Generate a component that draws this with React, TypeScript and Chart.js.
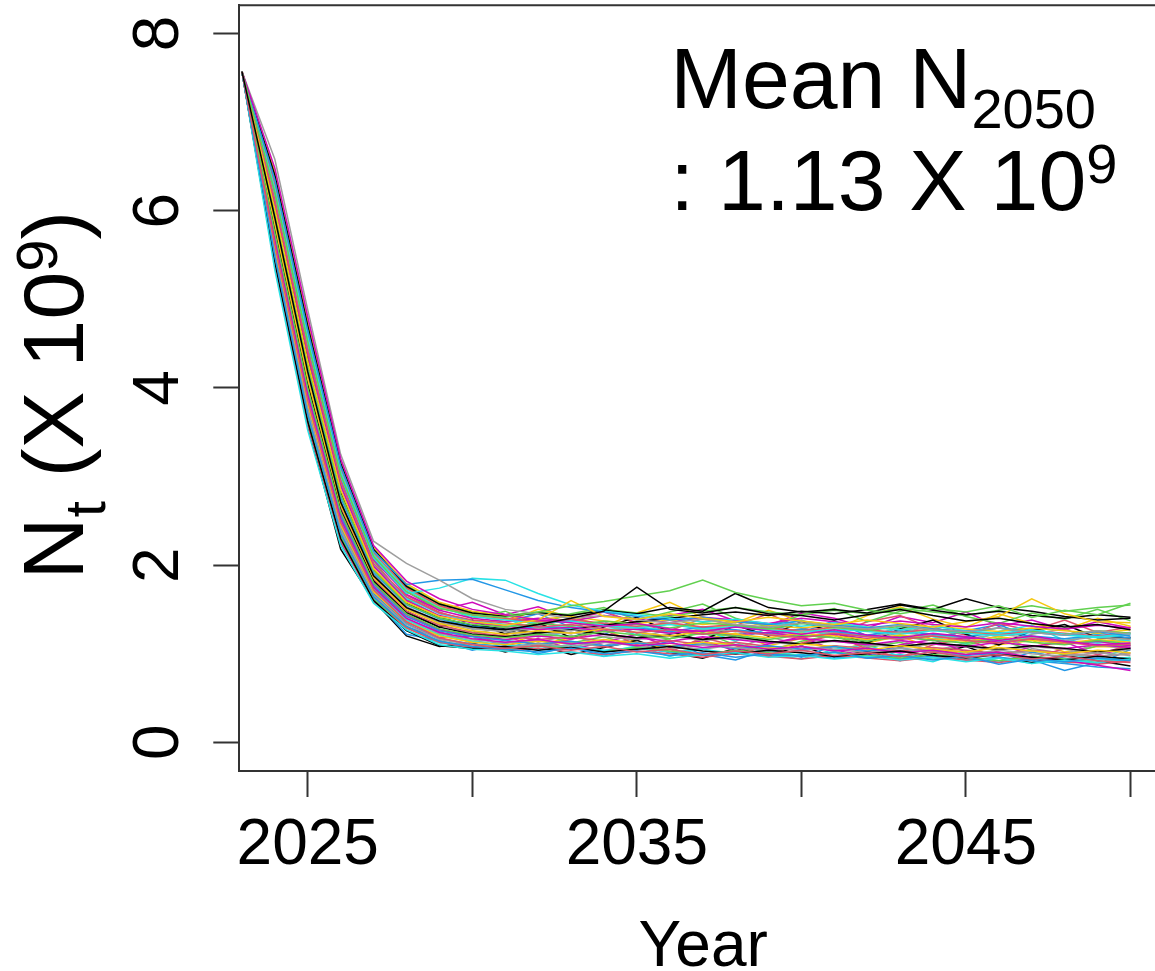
import React, { useEffect, useRef } from "react";
import { Chart, registerables } from "chart.js";

Chart.register(...registerables);

// ---------- data ----------
const YEARS = [2023, 2024, 2025, 2026, 2027, 2028, 2029, 2030, 2031, 2032, 2033, 2034, 2035, 2036, 2037, 2038, 2039, 2040, 2041, 2042, 2043, 2044, 2045, 2046, 2047, 2048, 2049, 2050];

const X_TICKS = [2025, 2030, 2035, 2040, 2045, 2050];
const X_TICK_LABELS = ["2025", "", "2035", "", "2045", ""];
const Y_TICKS = [0, 2, 4, 6, 8];
const Y_TICK_LABELS = ["0", "2", "4", "6", "8"];

const X_TITLE = "Year";
const MEAN_LABEL = "1.13";

// simulated trajectories N_t (x 10^9), one value per year 2023..2050
const SIM_01 = [7.57, 5.92, 4.18, 2.71, 1.88, 1.52, 1.37, 1.30, 1.27, 1.33, 1.40, 1.48, 1.75, 1.50, 1.46, 1.52, 1.45, 1.43, 1.38, 1.44, 1.50, 1.43, 1.37, 1.40, 1.34, 1.30, 1.33, 1.27];
const SIM_02 = [7.57, 5.61, 3.86, 2.48, 1.72, 1.36, 1.18, 1.10, 1.06, 1.09, 1.04, 1.08, 1.02, 1.05, 0.99, 1.03, 1.00, 1.04, 0.98, 1.01, 0.97, 1.02, 0.96, 0.99, 0.94, 0.97, 0.92, 0.90];
const SIM_03 = [7.57, 6.21, 4.52, 3.02, 2.10, 1.70, 1.51, 1.44, 1.41, 1.47, 1.54, 1.59, 1.65, 1.71, 1.83, 1.69, 1.61, 1.54, 1.57, 1.49, 1.45, 1.51, 1.47, 1.54, 1.41, 1.49, 1.44, 1.57];
const SIM_04 = [7.57, 5.48, 3.70, 2.36, 1.64, 1.31, 1.14, 1.08, 1.05, 1.02, 1.06, 1.00, 1.03, 0.98, 1.01, 0.96, 1.00, 0.97, 1.02, 0.95, 0.98, 0.93, 0.97, 0.88, 0.94, 0.91, 0.95, 0.92];
const SIM_05 = [7.57, 5.33, 3.52, 2.22, 1.57, 1.27, 1.10, 1.05, 1.03, 0.99, 1.02, 0.97, 1.00, 0.95, 0.99, 1.01, 0.96, 0.98, 0.94, 0.97, 0.93, 0.96, 0.91, 0.95, 0.89, 0.93, 0.90, 0.94];
const SIM_06 = [7.57, 6.48, 4.80, 3.20, 2.22, 1.82, 1.62, 1.50, 1.44, 1.38, 1.35, 1.31, 1.34, 1.28, 1.25, 1.30, 1.26, 1.22, 1.27, 1.21, 1.18, 1.23, 1.19, 1.15, 1.20, 1.14, 1.10, 1.12];
const SIM_07 = [7.57, 6.02, 4.30, 2.85, 1.96, 1.58, 1.42, 1.36, 1.32, 1.38, 1.60, 1.42, 1.39, 1.45, 1.40, 1.36, 1.41, 1.37, 1.33, 1.38, 1.34, 1.30, 1.36, 1.42, 1.62, 1.45, 1.36, 1.35];
const SIM_08 = [7.57, 6.58, 4.88, 3.25, 2.27, 2.02, 1.83, 1.62, 1.50, 1.45, 1.40, 1.43, 1.38, 1.35, 1.39, 1.33, 1.30, 1.35, 1.31, 1.28, 1.32, 1.27, 1.25, 1.29, 1.24, 1.21, 1.26, 1.22];
const SIM_09 = [7.57, 5.42, 3.62, 2.30, 1.60, 1.26, 1.09, 1.06, 1.08, 1.04, 1.07, 1.02, 1.05, 1.08, 1.03, 1.00, 1.04, 1.01, 0.97, 1.00, 1.03, 0.98, 0.95, 0.99, 0.96, 0.93, 0.97, 0.94];
const SIM_10 = [7.57, 6.12, 4.42, 2.95, 2.02, 1.64, 1.46, 1.38, 1.35, 1.30, 1.33, 1.28, 1.24, 1.27, 1.22, 1.26, 1.21, 1.18, 1.23, 1.19, 1.16, 1.20, 1.15, 1.12, 1.17, 1.13, 1.09, 1.11];
const SIM_11 = [7.57, 5.75, 4.00, 2.60, 1.80, 1.45, 1.28, 1.21, 1.18, 1.22, 1.19, 1.25, 1.21, 1.17, 1.23, 1.20, 1.16, 1.21, 1.18, 1.14, 1.19, 1.15, 1.12, 1.17, 1.13, 1.10, 1.15, 1.11];
const SIM_12 = [7.57, 6.35, 4.65, 3.12, 2.16, 1.78, 1.83, 1.84, 1.72, 1.60, 1.52, 1.47, 1.42, 1.38, 1.41, 1.36, 1.33, 1.37, 1.32, 1.29, 1.33, 1.28, 1.25, 1.29, 1.24, 1.21, 1.25, 1.20];
const SIM_13 = [7.57, 6.15, 4.50, 3.00, 2.08, 1.68, 1.74, 1.85, 1.83, 1.68, 1.55, 1.48, 1.44, 1.40, 1.36, 1.39, 1.34, 1.31, 1.35, 1.30, 1.27, 1.31, 1.26, 1.23, 1.27, 1.22, 1.19, 1.23];
const SIM_14 = [7.57, 5.68, 3.92, 2.52, 1.75, 1.40, 1.24, 1.17, 1.13, 1.16, 1.11, 1.14, 1.09, 1.12, 1.07, 1.10, 1.05, 1.08, 1.03, 1.06, 1.01, 1.04, 0.99, 1.02, 0.96, 0.93, 0.87, 0.81];
const SIM_15 = [7.57, 5.85, 4.10, 2.68, 1.86, 1.50, 1.34, 1.26, 1.22, 1.26, 1.23, 1.28, 1.24, 1.20, 1.25, 1.22, 1.18, 1.23, 1.20, 1.16, 1.21, 1.17, 1.14, 1.19, 1.15, 1.12, 1.16, 1.13];
const SIM_16 = [7.57, 5.50, 3.75, 2.40, 1.66, 1.33, 1.16, 1.10, 1.07, 1.11, 1.08, 1.13, 1.09, 1.05, 1.10, 1.07, 1.03, 1.08, 1.05, 1.01, 1.06, 1.02, 0.99, 1.04, 1.00, 0.97, 1.01, 0.98];
const SIM_17 = [7.57, 6.40, 4.70, 3.15, 2.18, 1.76, 1.56, 1.46, 1.42, 1.46, 1.43, 1.49, 1.45, 1.52, 1.48, 1.68, 1.52, 1.47, 1.50, 1.46, 1.55, 1.49, 1.44, 1.48, 1.43, 1.40, 1.44, 1.41];
const SIM_18 = [7.57, 5.38, 3.58, 2.27, 1.59, 1.29, 1.13, 1.07, 1.04, 1.06, 1.02, 0.99, 1.03, 1.00, 0.96, 1.00, 0.97, 0.94, 0.98, 0.95, 0.92, 0.96, 0.93, 0.90, 0.94, 0.91, 0.88, 0.92];
const SIM_19 = [7.57, 5.98, 4.25, 2.80, 1.94, 1.56, 1.40, 1.33, 1.30, 1.34, 1.31, 1.37, 1.33, 1.29, 1.35, 1.32, 1.28, 1.34, 1.30, 1.26, 1.31, 1.27, 1.24, 1.29, 1.25, 1.22, 1.26, 1.23];
const SIM_20 = [7.57, 5.70, 3.95, 2.55, 1.77, 1.42, 1.26, 1.19, 1.15, 1.11, 1.14, 1.09, 1.12, 1.08, 1.11, 1.06, 1.09, 1.05, 1.08, 1.03, 1.06, 1.02, 0.98, 1.01, 0.93, 0.81, 0.90, 0.94];
const SIM_21 = [7.57, 6.25, 4.58, 3.06, 2.12, 1.72, 1.52, 1.42, 1.38, 1.34, 1.37, 1.32, 1.29, 1.33, 1.28, 1.31, 1.27, 1.24, 1.28, 1.25, 1.22, 1.26, 1.23, 1.20, 1.24, 1.21, 1.18, 1.22];
const SIM_22 = [7.57, 6.08, 4.38, 2.90, 1.99, 1.60, 1.43, 1.35, 1.31, 1.27, 1.30, 1.25, 1.28, 1.23, 1.26, 1.21, 1.24, 1.19, 1.22, 1.17, 1.20, 1.15, 1.18, 1.13, 1.16, 1.11, 1.14, 1.09];
const SIM_23 = [7.57, 5.58, 3.82, 2.45, 1.70, 1.36, 1.20, 1.13, 1.10, 1.14, 1.11, 1.16, 1.12, 1.09, 1.13, 1.10, 1.06, 1.11, 1.08, 1.04, 1.09, 1.05, 1.02, 1.07, 1.03, 1.00, 1.04, 1.01];
const SIM_24 = [7.57, 5.88, 4.14, 2.70, 1.87, 1.51, 1.35, 1.28, 1.25, 1.29, 1.26, 1.31, 1.27, 1.23, 1.28, 1.25, 1.21, 1.26, 1.23, 1.19, 1.24, 1.20, 1.17, 1.22, 1.18, 1.15, 1.19, 1.16];
const SIM_25 = [7.57, 5.78, 4.04, 2.62, 1.82, 1.46, 1.30, 1.22, 1.19, 1.23, 1.27, 1.32, 1.36, 1.40, 1.44, 1.47, 1.43, 1.48, 1.45, 1.50, 1.56, 1.50, 1.62, 1.52, 1.48, 1.42, 1.38, 1.40];
const SIM_26 = [7.57, 6.30, 4.62, 3.10, 2.14, 1.74, 1.54, 1.44, 1.40, 1.36, 1.39, 1.34, 1.31, 1.35, 1.30, 1.33, 1.29, 1.26, 1.30, 1.27, 1.24, 1.28, 1.25, 1.22, 1.26, 1.23, 1.20, 1.24];
const SIM_27 = [7.57, 5.45, 3.66, 2.33, 1.62, 1.30, 1.14, 1.08, 1.05, 1.09, 1.06, 1.02, 1.07, 1.03, 0.99, 1.04, 1.01, 0.97, 1.02, 0.98, 0.95, 0.99, 0.96, 0.92, 0.97, 0.94, 0.90, 0.95];
const SIM_28 = [7.57, 5.95, 4.22, 2.76, 1.92, 1.55, 1.39, 1.31, 1.27, 1.31, 1.28, 1.33, 1.29, 1.25, 1.30, 1.27, 1.23, 1.28, 1.25, 1.21, 1.26, 1.22, 1.19, 1.24, 1.20, 1.17, 1.21, 1.18];
const SIM_29 = [7.57, 5.62, 3.88, 2.50, 1.73, 1.38, 1.21, 1.14, 1.10, 1.06, 1.09, 1.04, 1.07, 1.02, 1.05, 1.00, 1.03, 0.98, 1.01, 0.96, 0.99, 0.94, 0.97, 0.92, 0.95, 0.90, 0.93, 0.96];
const SIM_30 = [7.57, 6.18, 4.48, 2.98, 2.06, 1.67, 1.49, 1.40, 1.36, 1.40, 1.37, 1.43, 1.39, 1.35, 1.41, 1.38, 1.34, 1.40, 1.36, 1.32, 1.37, 1.33, 1.30, 1.35, 1.31, 1.28, 1.32, 1.29];
const SIM_31 = [7.57, 6.45, 4.75, 3.18, 2.20, 1.79, 1.58, 1.48, 1.43, 1.39, 1.42, 1.37, 1.34, 1.38, 1.33, 1.36, 1.32, 1.29, 1.33, 1.30, 1.27, 1.31, 1.28, 1.25, 1.29, 1.26, 1.23, 1.27];
const SIM_32 = [7.57, 5.65, 3.90, 2.52, 1.74, 1.39, 1.23, 1.16, 1.12, 1.15, 1.12, 1.08, 1.13, 1.09, 1.05, 1.10, 1.07, 1.03, 1.08, 1.04, 1.01, 1.05, 1.02, 0.98, 1.03, 1.00, 0.96, 1.01];
const SIM_33 = [7.57, 6.00, 4.28, 2.82, 1.95, 1.57, 1.40, 1.32, 1.28, 1.24, 1.27, 1.22, 1.18, 1.21, 1.16, 1.19, 1.14, 1.11, 1.15, 1.12, 1.08, 1.12, 1.09, 1.05, 1.09, 1.06, 1.02, 1.06];
const SIM_34 = [7.57, 5.82, 4.08, 2.66, 1.84, 1.48, 1.32, 1.24, 1.20, 1.16, 1.19, 1.14, 1.11, 1.15, 1.10, 1.13, 1.08, 1.05, 1.09, 1.06, 1.03, 1.07, 1.04, 1.00, 1.04, 1.01, 0.97, 1.00];
const SIM_35 = [7.57, 6.38, 4.68, 3.14, 2.17, 1.77, 1.57, 1.47, 1.43, 1.47, 1.44, 1.50, 1.46, 1.42, 1.48, 1.52, 1.47, 1.44, 1.49, 1.45, 1.51, 1.47, 1.43, 1.49, 1.54, 1.48, 1.52, 1.55];
const SIM_36 = [7.57, 5.52, 3.76, 2.42, 1.68, 1.34, 1.17, 1.11, 1.08, 1.11, 1.07, 1.03, 1.06, 1.02, 0.98, 1.01, 0.97, 0.99, 0.95, 0.98, 0.94, 0.97, 0.93, 0.96, 0.92, 0.89, 0.85, 0.83];
const SIM_37 = [7.57, 6.10, 4.40, 2.93, 2.01, 1.63, 1.45, 1.37, 1.33, 1.29, 1.32, 1.27, 1.30, 1.26, 1.22, 1.26, 1.23, 1.19, 1.24, 1.20, 1.17, 1.21, 1.18, 1.14, 1.18, 1.15, 1.12, 1.16];
const SIM_38 = [7.57, 5.72, 3.98, 2.58, 1.79, 1.44, 1.27, 1.20, 1.16, 1.20, 1.17, 1.22, 1.18, 1.14, 1.19, 1.16, 1.12, 1.17, 1.14, 1.10, 1.15, 1.11, 1.08, 1.13, 1.09, 1.06, 1.10, 1.07];
const SIM_39 = [7.57, 6.28, 4.60, 3.08, 2.13, 1.73, 1.53, 1.43, 1.39, 1.35, 1.38, 1.33, 1.30, 1.34, 1.29, 1.32, 1.28, 1.25, 1.29, 1.26, 1.23, 1.27, 1.24, 1.21, 1.25, 1.22, 1.19, 1.23];
const SIM_40 = [7.57, 5.90, 4.16, 2.72, 1.89, 1.53, 1.36, 1.29, 1.25, 1.21, 1.24, 1.19, 1.16, 1.20, 1.15, 1.18, 1.13, 1.10, 1.14, 1.11, 1.07, 1.11, 1.08, 1.04, 1.08, 1.05, 1.01, 1.05];
const SIM_41 = [7.57, 6.05, 4.32, 2.70, 1.80, 1.48, 1.30, 1.38, 1.22, 1.35, 1.18, 1.30, 1.41, 1.25, 1.15, 1.32, 1.20, 1.36, 1.24, 1.12, 1.28, 1.38, 1.22, 1.10, 1.26, 1.33, 1.18, 1.18];
const SIM_42 = [7.57, 5.80, 3.95, 2.40, 1.70, 1.38, 1.25, 1.12, 1.20, 1.08, 1.16, 1.27, 1.10, 1.02, 1.18, 1.09, 0.98, 1.12, 1.21, 1.05, 0.96, 1.10, 1.17, 1.01, 0.94, 1.06, 0.99, 1.10];
const SIM_43 = [7.57, 6.30, 4.55, 2.95, 2.05, 1.60, 1.55, 1.40, 1.48, 1.33, 1.45, 1.52, 1.38, 1.47, 1.56, 1.40, 1.30, 1.44, 1.51, 1.36, 1.48, 1.55, 1.42, 1.34, 1.46, 1.39, 1.50, 1.37];
const SIM_44 = [7.57, 5.55, 3.70, 2.25, 1.62, 1.22, 1.15, 1.04, 1.12, 1.00, 1.08, 0.97, 1.06, 1.14, 0.99, 0.93, 1.05, 0.96, 1.09, 1.01, 0.92, 1.04, 0.97, 0.90, 1.02, 0.95, 0.88, 1.05];
const SIM_45 = [7.57, 6.15, 4.45, 2.85, 1.95, 1.62, 1.42, 1.30, 1.40, 1.26, 1.18, 1.33, 1.21, 1.35, 1.27, 1.14, 1.29, 1.38, 1.23, 1.16, 1.31, 1.19, 1.11, 1.25, 1.32, 1.15, 1.22, 1.14];
const SIM_46 = [7.57, 5.68, 3.85, 2.35, 1.66, 1.30, 1.18, 1.20, 1.09, 1.17, 1.05, 1.13, 1.22, 1.07, 1.15, 1.03, 1.11, 1.19, 1.04, 0.98, 1.10, 1.16, 1.02, 0.97, 1.08, 1.13, 0.99, 1.06];
const SIM_47 = [7.57, 6.42, 4.72, 3.05, 2.12, 1.75, 1.52, 1.45, 1.36, 1.50, 1.42, 1.31, 1.46, 1.58, 1.41, 1.35, 1.49, 1.37, 1.28, 1.43, 1.53, 1.39, 1.30, 1.45, 1.34, 1.27, 1.40, 1.31];
const SIM_48 = [7.57, 5.95, 4.12, 2.55, 1.76, 1.42, 1.28, 1.16, 1.25, 1.13, 1.21, 1.09, 1.18, 1.27, 1.12, 1.06, 1.19, 1.10, 1.24, 1.08, 1.15, 1.03, 1.12, 1.20, 1.06, 1.00, 1.11, 1.04];
const SIM_49 = [7.57, 5.40, 3.58, 2.18, 1.60, 1.20, 1.08, 1.12, 1.02, 1.10, 0.99, 1.07, 1.15, 1.01, 0.95, 1.06, 0.98, 1.09, 0.96, 1.03, 0.93, 1.00, 1.08, 0.95, 0.90, 0.98, 0.92, 0.86];
const SIM_50 = [7.57, 6.22, 4.50, 2.90, 1.98, 1.66, 1.47, 1.35, 1.44, 1.31, 1.39, 1.48, 1.34, 1.26, 1.40, 1.32, 1.45, 1.29, 1.22, 1.36, 1.43, 1.28, 1.21, 1.34, 1.26, 1.38, 1.24, 1.30];
const SIM_51 = [7.57, 5.72, 3.90, 2.42, 1.72, 1.35, 1.22, 1.26, 1.15, 1.23, 1.12, 1.19, 1.08, 1.17, 1.24, 1.10, 1.03, 1.14, 1.21, 1.07, 1.13, 1.02, 1.10, 1.16, 1.04, 0.99, 1.09, 1.09];
const SIM_52 = [7.57, 6.10, 4.38, 2.80, 1.90, 1.58, 1.40, 1.28, 1.36, 1.45, 1.30, 1.22, 1.35, 1.42, 1.27, 1.19, 1.33, 1.24, 1.37, 1.20, 1.29, 1.16, 1.26, 1.33, 1.18, 1.12, 1.24, 1.17];
const SIM_53 = [7.57, 5.62, 3.80, 2.30, 1.65, 1.26, 1.12, 1.07, 1.15, 1.04, 1.11, 1.01, 1.09, 0.97, 1.06, 1.13, 0.99, 0.94, 1.05, 1.10, 0.97, 0.91, 1.03, 0.96, 0.89, 1.00, 0.94, 1.07];
const SIM_54 = [7.57, 6.35, 4.62, 3.00, 2.08, 1.70, 1.49, 1.58, 1.44, 1.53, 1.39, 1.47, 1.35, 1.43, 1.50, 1.37, 1.32, 1.46, 1.40, 1.29, 1.42, 1.35, 1.47, 1.31, 1.38, 1.27, 1.36, 1.29];
const SIM_55 = [7.57, 5.85, 4.02, 2.48, 1.74, 1.39, 1.23, 1.14, 1.22, 1.10, 1.18, 1.27, 1.13, 1.05, 1.16, 1.23, 1.09, 1.17, 1.03, 1.12, 1.20, 1.06, 0.99, 1.10, 1.15, 1.02, 1.08, 1.07];
const SIM_56 = [7.57, 6.00, 4.25, 2.65, 1.83, 1.46, 1.33, 1.22, 1.30, 1.19, 1.27, 1.36, 1.23, 1.17, 1.29, 1.21, 1.33, 1.18, 1.26, 1.14, 1.24, 1.31, 1.16, 1.10, 1.22, 1.28, 1.13, 1.19];

const SIMULATIONS = [
  SIM_01, SIM_02, SIM_03, SIM_04, SIM_05, SIM_06, SIM_07, SIM_08, SIM_09, SIM_10,
  SIM_11, SIM_12, SIM_13, SIM_14, SIM_15, SIM_16, SIM_17, SIM_18, SIM_19, SIM_20,
  SIM_21, SIM_22, SIM_23, SIM_24, SIM_25, SIM_26, SIM_27, SIM_28, SIM_29, SIM_30,
  SIM_31, SIM_32, SIM_33, SIM_34, SIM_35, SIM_36, SIM_37, SIM_38, SIM_39, SIM_40,
  SIM_41, SIM_42, SIM_43, SIM_44, SIM_45, SIM_46, SIM_47, SIM_48, SIM_49, SIM_50,
  SIM_51, SIM_52, SIM_53, SIM_54, SIM_55, SIM_56,
];

// ---------- styling ----------
const R_PALETTE = ["#000000", "#DF536B", "#61D04F", "#2297E6", "#28E2E5", "#CD0BBC", "#F5C710", "#9E9E9E"];
const FONT = "'Liberation Sans', Arial, Helvetica, sans-serif";
const AXIS_COLOR = "#333333";

const X_MIN = 2022.92;
const X_MAX = 2051.11;
const Y_MIN = -0.324;
const Y_MAX = 8.318;

const CANVAS_W = 1180;
const CANVAS_H = 971;

type Part = { t: string; size: number; dy: number };

function partsWidth(ctx: CanvasRenderingContext2D, parts: Part[]) {
  let w = 0;
  for (const p of parts) {
    ctx.font = `${p.size}px ${FONT}`;
    w += ctx.measureText(p.t).width;
  }
  return w;
}

function drawParts(ctx: CanvasRenderingContext2D, parts: Part[], x0: number, y0: number) {
  let x = x0;
  ctx.textAlign = "left";
  ctx.textBaseline = "alphabetic";
  for (const p of parts) {
    ctx.font = `${p.size}px ${FONT}`;
    ctx.fillText(p.t, x, y0 + p.dy);
    x += ctx.measureText(p.t).width;
  }
}

const framePlugin = {
  id: "rFrame",
  afterDraw(chart: any) {
    const { ctx, chartArea: a, scales } = chart;
    ctx.save();
    // box (top and right sides)
    ctx.strokeStyle = AXIS_COLOR;
    ctx.lineWidth = 2;
    ctx.beginPath();
    ctx.moveTo(a.left - 1, a.top);
    ctx.lineTo(a.right, a.top);
    ctx.lineTo(a.right, a.bottom);
    ctx.stroke();

    ctx.fillStyle = "#000";
    // x tick labels
    ctx.font = `64px ${FONT}`;
    ctx.textAlign = "center";
    ctx.textBaseline = "alphabetic";
    X_TICKS.forEach((v, i) => {
      const lbl = X_TICK_LABELS[i];
      if (!lbl) return;
      ctx.fillText(lbl, scales.x.getPixelForValue(v), a.bottom + 93);
    });
    // y tick labels (rotated, as in R)
    Y_TICKS.forEach((v, i) => {
      const y = scales.y.getPixelForValue(v);
      ctx.save();
      ctx.translate(a.left - 61, y);
      ctx.rotate(-Math.PI / 2);
      ctx.font = `64px ${FONT}`;
      ctx.textAlign = "center";
      ctx.fillText(Y_TICK_LABELS[i], 0, 0);
      ctx.restore();
    });
    // x title
    ctx.font = `64px ${FONT}`;
    ctx.textAlign = "center";
    ctx.fillText(X_TITLE, (a.left + a.right) / 2, a.bottom + 195);

    // y title: N_t (X 10^9)
    const yParts: Part[] = [
      { t: "N", size: 86, dy: 0 },
      { t: "t", size: 58, dy: 22 },
      { t: " (X 10", size: 86, dy: 0 },
      { t: "9", size: 58, dy: -26 },
      { t: ")", size: 86, dy: 0 },
    ];
    const yw = partsWidth(ctx, yParts);
    ctx.save();
    ctx.translate(a.left - 156, (a.top + a.bottom) / 2 + 7);
    ctx.rotate(-Math.PI / 2);
    drawParts(ctx, yParts, -yw / 2, 0);
    ctx.restore();

    // annotation
    const line1: Part[] = [
      { t: "Mean N", size: 86, dy: 0 },
      { t: "2050", size: 56, dy: 20 },
    ];
    const line2: Part[] = [
      { t: `: ${MEAN_LABEL} X 10`, size: 86, dy: 0 },
      { t: "9", size: 56, dy: -27 },
    ];
    drawParts(ctx, line1, a.left + 431, a.top + 103);
    drawParts(ctx, line2, a.left + 431, a.top + 205);
    ctx.restore();
  },
};

export default function App() {
  const ref = useRef<HTMLCanvasElement | null>(null);

  useEffect(() => {
    const canvas = ref.current;
    if (!canvas) return;
    const datasets = SIMULATIONS.map((series, i) => ({
      label: `sim ${i + 1}`,
      data: series.map((v, j) => ({ x: YEARS[j], y: v })),
      borderColor: R_PALETTE[i % R_PALETTE.length],
      backgroundColor: R_PALETTE[i % R_PALETTE.length],
      borderWidth: 1.5,
      pointRadius: 0,
      tension: 0,
      fill: false,
    }));

    const tickGrid = {
      display: true,
      drawOnChartArea: false,
      drawTicks: true,
      tickLength: 26,
      tickColor: AXIS_COLOR,
      tickWidth: 2,
    };

    const chart = new Chart(canvas, {
      type: "line",
      data: { datasets },
      options: {
        responsive: false,
        animation: false,
        events: [],
        layout: { padding: { left: 213.3, right: 13, top: 5.3, bottom: 174 } },
        plugins: { legend: { display: false }, tooltip: { enabled: false } },
        scales: {
          x: {
            type: "linear",
            position: "bottom",
            min: X_MIN,
            max: X_MAX,
            afterBuildTicks: (axis: any) => {
              axis.ticks = X_TICKS.map((v) => ({ value: v }));
            },
            ticks: { display: false },
            grid: tickGrid,
            border: { display: true, color: AXIS_COLOR, width: 2 },
          },
          y: {
            type: "linear",
            position: "left",
            min: Y_MIN,
            max: Y_MAX,
            afterBuildTicks: (axis: any) => {
              axis.ticks = Y_TICKS.map((v) => ({ value: v }));
            },
            ticks: { display: false },
            grid: tickGrid,
            border: { display: true, color: AXIS_COLOR, width: 2 },
          },
        },
      } as any,
      plugins: [framePlugin],
    });
    return () => chart.destroy();
  }, []);

  return (
    <div
      style={{
        position: "fixed",
        left: 0,
        top: 0,
        width: 1155,
        height: 971,
        overflow: "hidden",
        background: "#ffffff",
      }}
    >
      <canvas
        ref={ref}
        width={CANVAS_W}
        height={CANVAS_H}
        style={{ display: "block", width: CANVAS_W, height: CANVAS_H }}
      />
    </div>
  );
}
